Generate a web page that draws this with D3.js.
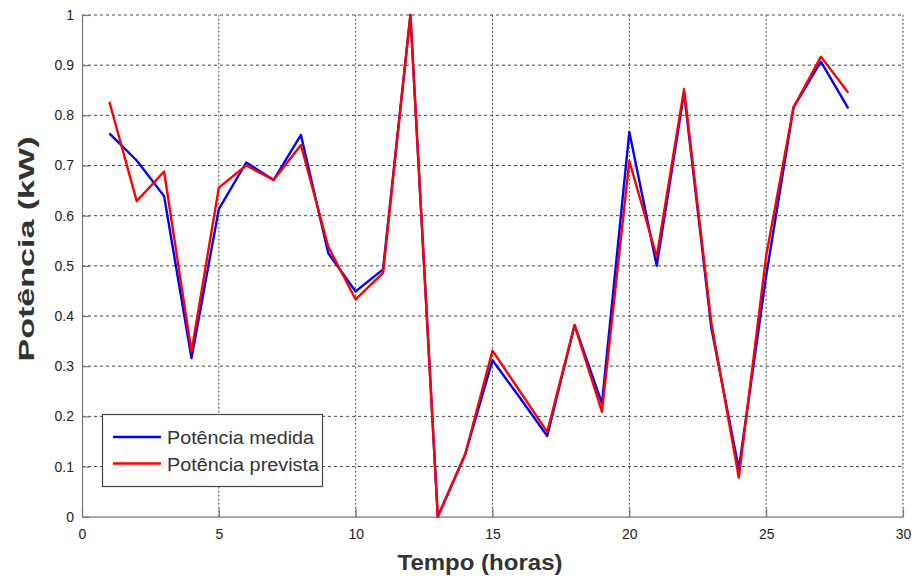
<!DOCTYPE html>
<html><head><meta charset="utf-8">
<script src="https://cdn.jsdelivr.net/npm/d3@7"></script>
<style>body{margin:0;background:#fff}svg{display:block}text{font-family:"Liberation Sans",Arial,sans-serif}</style>
</head><body>
<script>
const hours = d3.range(1, 29);
const medida = [0.764,0.71,0.639,0.316,0.613,0.706,0.671,0.761,0.525,0.449,0.493,1.0,0.0,0.124,0.312,0.237,0.161,0.382,0.226,0.767,0.500,0.845,0.375,0.095,0.48,0.816,0.907,0.814];
const prevista = [0.827,0.629,0.688,0.329,0.656,0.700,0.671,0.741,0.538,0.433,0.486,1.0,0.0,0.124,0.331,0.25,0.169,0.382,0.209,0.709,0.518,0.852,0.385,0.078,0.52,0.816,0.917,0.845];
const xTicks = [0,5,10,15,20,25,30];
const yTicks = [0,0.1,0.2,0.3,0.4,0.5,0.6,0.7,0.8,0.9,1];
const seriesNames = ["Potência medida","Potência prevista"];
const seriesColors = ["#0000ff","#ff0000"];

const W=914,H=576;
const svg=d3.select("body").append("svg").attr("width",W).attr("height",H);
const x=d3.scaleLinear().domain([0,30]).range([82,903]);
const y=d3.scaleLinear().domain([0,1]).range([516.7,15]);

// grid
const g=svg.append("g");
g.selectAll(".hg").data(yTicks.slice(1)).join("line")
 .attr("x1",x(0)).attr("x2",x(30)).attr("y1",d=>y(d)).attr("y2",d=>y(d))
 .attr("stroke","#444").attr("stroke-width",1).attr("stroke-dasharray","3,3");
g.selectAll(".vg").data(xTicks.slice(1)).join("line")
 .attr("y1",y(0)).attr("y2",y(1)).attr("x1",d=>x(d)).attr("x2",d=>x(d))
 .attr("stroke","#444").attr("stroke-width",1).attr("stroke-dasharray","2,2");

// axes
const xa=svg.append("g").attr("transform",`translate(0,${y(0)})`)
 .call(d3.axisBottom(x).tickValues(xTicks).tickSizeInner(-8).tickSizeOuter(0).tickPadding(12));
const ya=svg.append("g").attr("transform",`translate(${x(0)},0)`)
 .call(d3.axisLeft(y).tickValues(yTicks).tickFormat(d=>d3.format("")(+d.toFixed(1))).tickSizeInner(-8).tickSizeOuter(0).tickPadding(8));
[xa,ya].forEach(a=>{
  a.selectAll("path,line").attr("stroke","#777").attr("stroke-width",1.2);
  a.selectAll("text").attr("fill","#222").style("font-size","14px");
});

// lines
const line=d3.line().x((d,i)=>x(hours[i])).y(d=>y(d));
[medida,prevista].forEach((s,k)=>{
  svg.append("path").datum(s).attr("d",line).attr("fill","none")
   .attr("stroke",seriesColors[k]).attr("stroke-width",2.4).attr("stroke-linejoin","round");
});

// labels
svg.append("text").attr("x",480).attr("y",570).attr("text-anchor","middle")
 .attr("textLength",165).attr("lengthAdjust","spacingAndGlyphs")
 .style("font-size","22px").style("font-weight","bold").attr("fill","#333").text("Tempo (horas)");
svg.append("text").attr("transform","translate(34,249) rotate(-90)").attr("text-anchor","middle")
 .attr("textLength",225).attr("lengthAdjust","spacingAndGlyphs")
 .style("font-size","22px").style("font-weight","bold").attr("fill","#333").text("Potência (kW)");

// legend
const lg=svg.append("g");
lg.append("rect").attr("x",102.5).attr("y",414.5).attr("width",220).attr("height",72)
 .attr("fill","#fff").attr("stroke","#444").attr("stroke-width",1.2);
const legW=[147,152];
seriesNames.forEach((n,i)=>{
  const yy=437+i*26.5;
  lg.append("line").attr("x1",113).attr("x2",161).attr("y1",yy).attr("y2",yy)
   .attr("stroke",seriesColors[i]).attr("stroke-width",2.4);
  lg.append("text").attr("x",167).attr("y",yy+7).attr("textLength",legW[i]).attr("lengthAdjust","spacingAndGlyphs")
   .style("font-size","19px").attr("fill","#333").text(n);
});
</script>
</body></html>
